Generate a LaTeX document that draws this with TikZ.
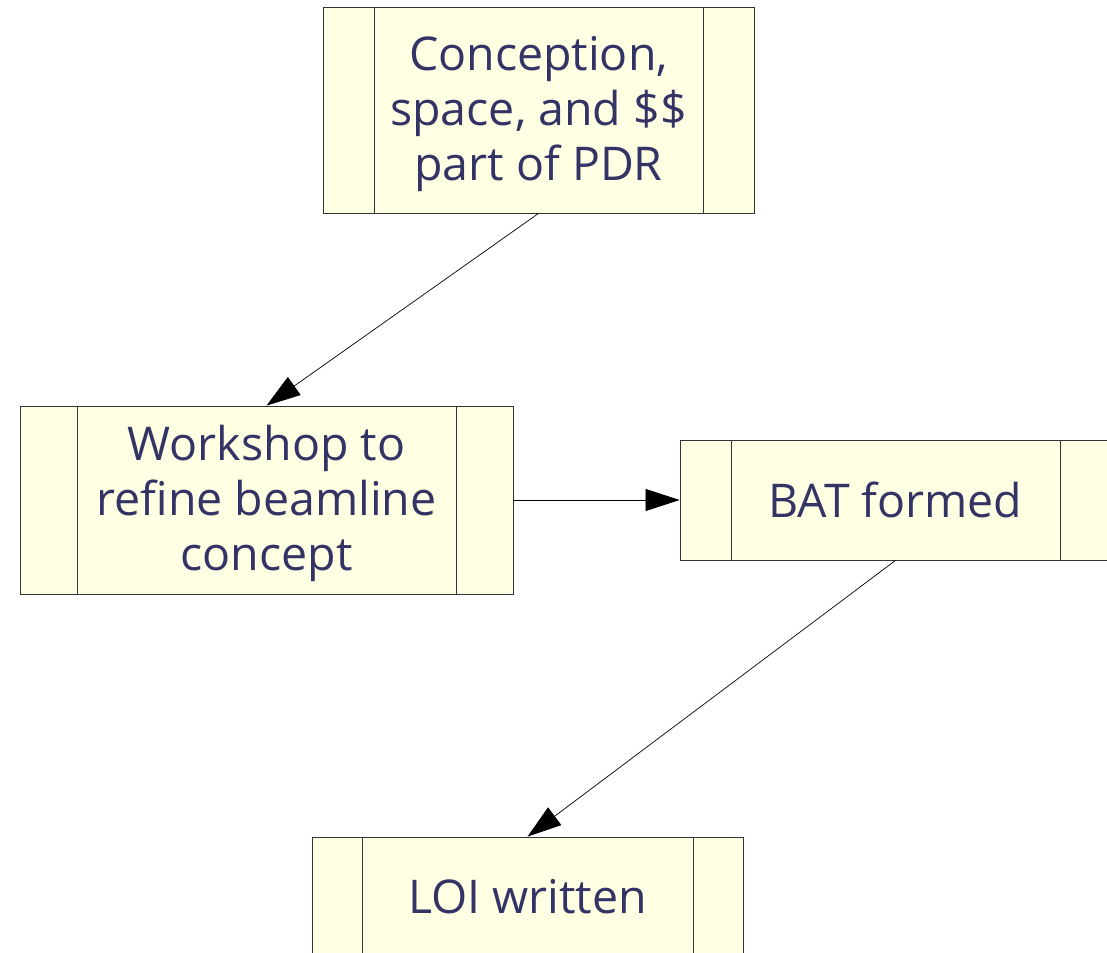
\documentclass[tikz,border=0pt]{standalone}
\usepackage{fontspec}
\setmainfont{Open Sans}
\usetikzlibrary{arrows.meta}
\definecolor{boxfill}{HTML}{FFFFE3}
\definecolor{boxtext}{HTML}{333366}
\tikzset{
procbox/.style={
  draw=black!80,line width=0.8pt,fill=boxfill,text=boxtext,
  align=center,inner sep=0pt,font=\fontsize{46.5}{55}\selectfont,
  path picture={
    \draw[black!80,line width=0.8pt]
      ([xshift=#1]path picture bounding box.north west) --
      ([xshift=#1]path picture bounding box.south west)
      ([xshift=-#1]path picture bounding box.north east) --
      ([xshift=-#1]path picture bounding box.south east);}},
flow/.style={-{Triangle[length=34pt,width=22pt]},line width=0.7pt}}
\begin{document}
\begin{tikzpicture}[x=1pt,y=-1pt]
\clip (0,0) rectangle (1107,952);
\node[procbox=51pt,minimum width=431pt,minimum height=206pt,text height=152pt] (concept) at (538.5,110)
  {Conception,\\space, and \$\$\\part of PDR};
\node[procbox=57pt,minimum width=493pt,minimum height=188pt,text height=152pt] (workshop) at (266.5,500)
  {Workshop to\\refine beamline\\concept};
\node[procbox=51pt,minimum width=431pt,minimum height=120pt] (bat) at (895.5,500)
  {BAT formed};
\node[procbox=50pt,minimum width=431pt,minimum height=120pt] (loi) at (527.5,897)
  {LOI written};

\draw[flow] (concept.south) -- (workshop.north);
\draw[flow] (workshop.east) -- (bat.west);
\draw[flow] (bat.south) -- (loi.north);
\end{tikzpicture}
\end{document}
